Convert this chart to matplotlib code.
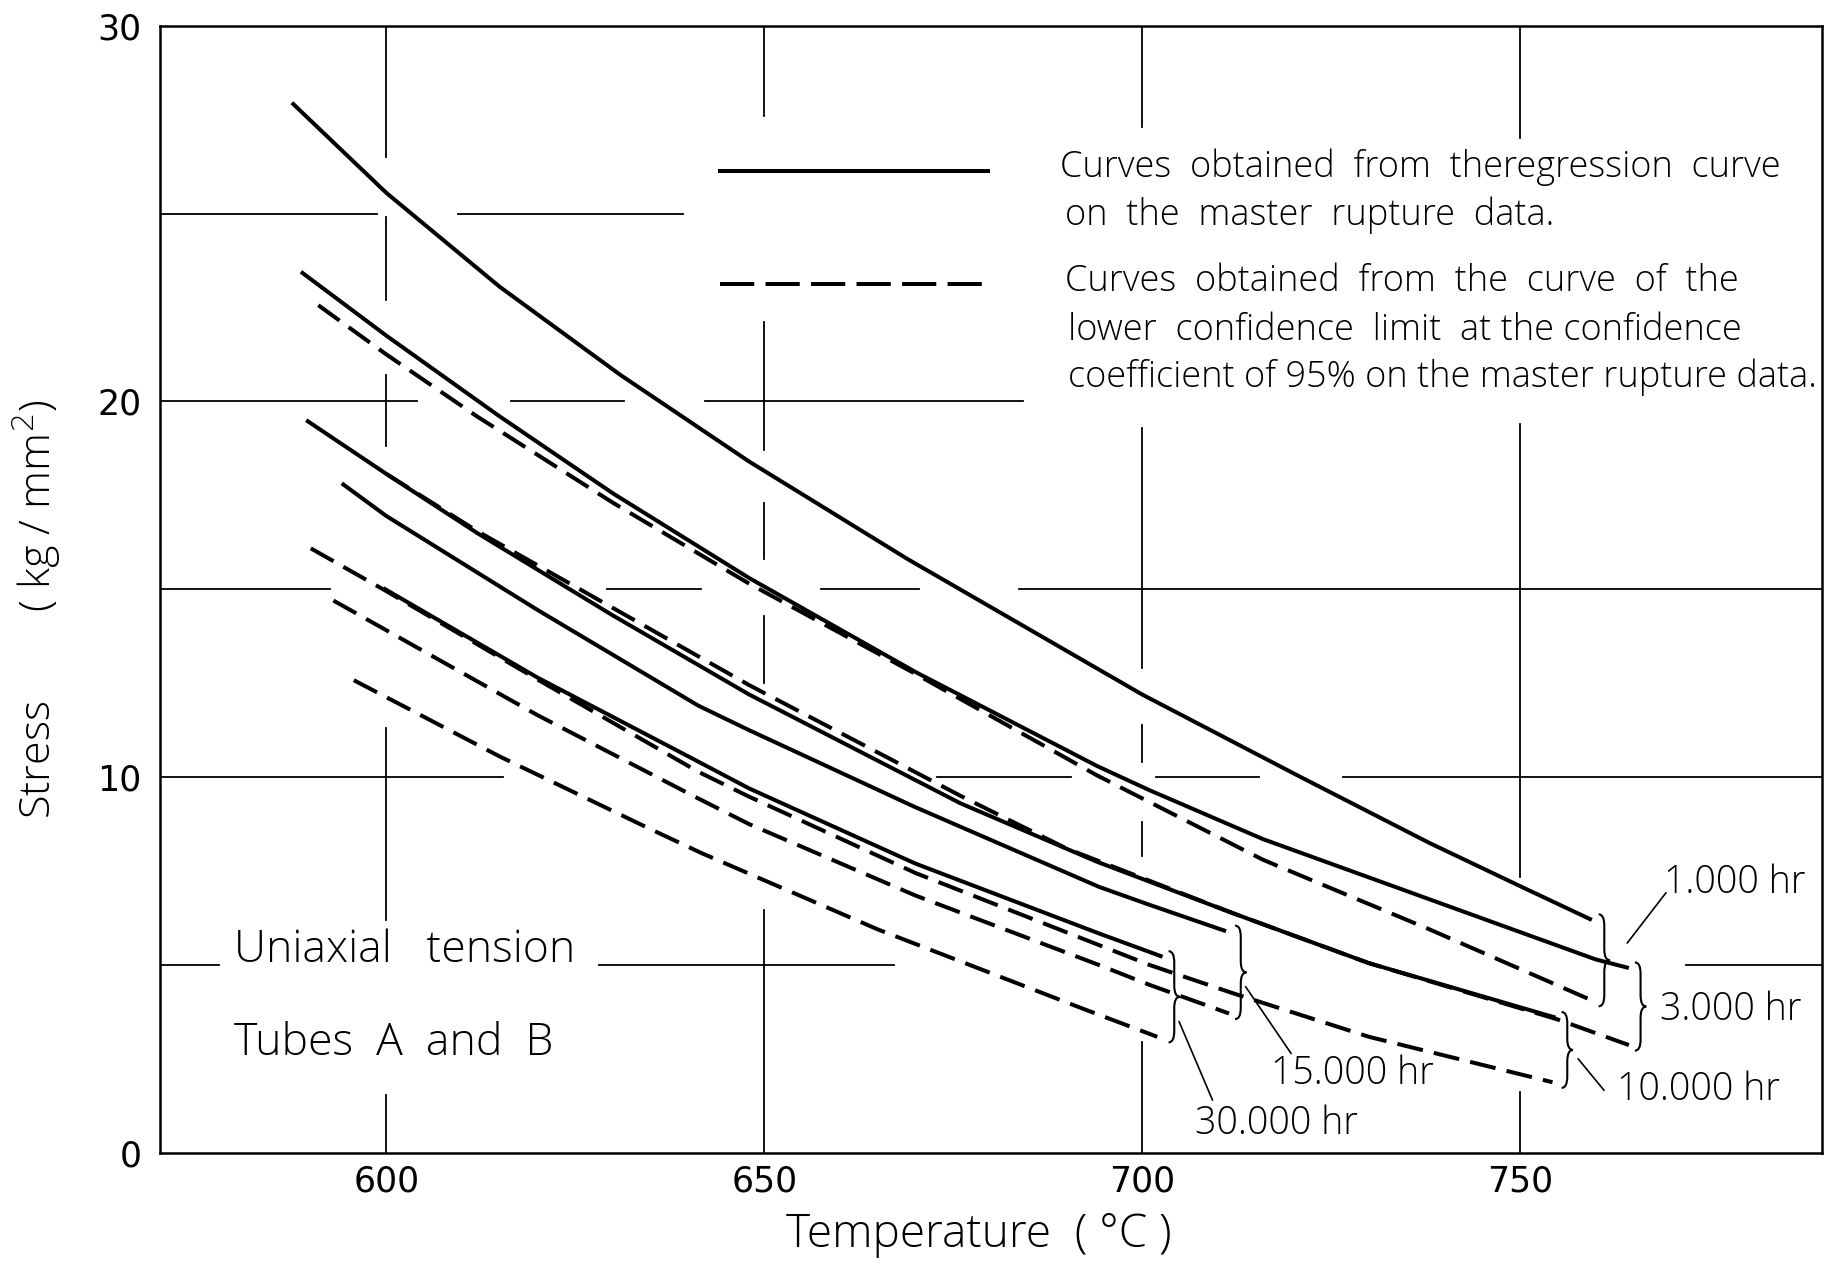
import numpy as np
import matplotlib.pyplot as plt
from matplotlib.path import Path
from matplotlib.patches import PathPatch

plt.rcParams['font.family'] = ['Open Sans', 'DejaVu Sans']
plt.rcParams['font.weight'] = 'light'
plt.rcParams['axes.labelweight'] = 'light'

# rupture curves: temperature (C) -> stress (kg/mm2)
t_1000_reg = [587.5, 600, 615, 631, 648, 669, 700, 721, 738, 750, 759.5]
s_1000_reg = [27.95, 25.55, 23.05, 20.7, 18.4, 15.8, 12.2, 10.0, 8.25, 7.1, 6.2]
t_1000_low = [591, 600, 612, 630, 648, 670, 694, 716, 738, 759.6]
s_1000_low = [22.56, 21.25, 19.6, 17.3, 15.15, 12.75, 10.05, 7.8, 5.95, 4.05]

t_3000_reg = [588.7, 600, 615, 630, 648, 670, 694, 701, 716, 738, 760, 764.4]
s_3000_reg = [23.45, 21.75, 19.6, 17.55, 15.3, 12.8, 10.3, 9.65, 8.35, 6.75, 5.15, 4.92]
t_3000_low = [600, 612, 630, 648, 676, 690, 712, 730, 755, 764.4]
s_3000_low = [18.07, 16.55, 14.5, 12.45, 9.5, 8.1, 6.38, 5.05, 3.55, 2.87]

t_10000_reg = [589.4, 600, 612, 630, 648, 676, 694, 712, 730, 754.7]
s_10000_reg = [19.5, 18.07, 16.5, 14.3, 12.2, 9.3, 7.75, 6.38, 5.05, 3.6]
t_10000_low = [590, 600, 620, 641.3, 648, 670, 694.3, 701, 712, 730, 754.3]
s_10000_low = [16.09, 14.95, 12.6, 10.14, 9.48, 7.45, 5.53, 5.0, 4.25, 3.09, 1.88]

t_15000_reg = [594.1, 600, 620, 641.3, 648, 670, 694.3, 701, 711.1]
s_15000_reg = [17.82, 16.95, 14.45, 11.9, 11.25, 9.2, 7.08, 6.6, 5.9]
t_15000_low = [593, 620, 641.3, 648, 670, 694.3, 701, 711.5]
s_15000_low = [14.7, 11.65, 9.43, 8.75, 6.85, 5.0, 4.47, 3.71]

t_30000_reg = [599.6, 620, 641.3, 648, 670, 694.3, 702.7]
s_30000_reg = [15.03, 12.65, 10.41, 9.7, 7.7, 5.84, 5.22]
t_30000_low = [595.7, 615, 634.7, 641.8, 665, 692, 702]
s_30000_low = [12.58, 10.55, 8.64, 7.97, 5.95, 3.85, 3.09]

durations = ['1.000 hr', '3.000 hr', '10.000 hr', '15.000 hr', '30.000 hr']
reg_t = [t_1000_reg, t_3000_reg, t_10000_reg, t_15000_reg, t_30000_reg]
reg_s = [s_1000_reg, s_3000_reg, s_10000_reg, s_15000_reg, s_30000_reg]
low_t = [t_1000_low, t_3000_low, t_10000_low, t_15000_low, t_30000_low]
low_s = [s_1000_low, s_3000_low, s_10000_low, s_15000_low, s_30000_low]

x_ticks = [600, 650, 700, 750]
y_ticks = [0, 10, 20, 30]

# broken grid lines of the original drawing
vgrid = {600: [(30, 26.5), (24.9, 22.7), (20.7, 18.8), (11.3, 6.2), (1.54, 0)],
         650: [(30, 27.6), (22.1, 18.7), (17.3, 15.8), (14.3, 12.5), (6.47, 0)],
         700: [(30, 27.3), (19.3, 12.9), (11.4, 10.4), (8.8, 7.9), (2.96, 0)],
         750: [(30, 27.0), (19.4, 7.35), (1.63, 0)]}
hgrid = {25: [(570, 598.8), (609.5, 639.3)],
         20: [(570, 604), (616.5, 631.5), (642.2, 684.3)],
         15: [(570, 592.5), (629.2, 641.6), (657.5, 670.5), (683.7, 790)],
         10: [(570, 615.5), (672.8, 690.6), (701.8, 715.4), (726.6, 790)],
         5: [(570, 577.8), (628.1, 667.2), (772, 790)]}

fig = plt.figure(figsize=(18.26, 12.64), dpi=100)
ax = fig.add_axes([0.0874, 0.0879, 0.9106, 0.8918])

for x, segs in vgrid.items():
    for a, b in segs:
        ax.plot([x, x], [a, b], color='black', lw=1.3, zorder=1)
for y, segs in hgrid.items():
    for a, b in segs:
        ax.plot([a, b], [y, y], color='black', lw=1.3, zorder=1)

for i in range(len(durations)):
    ax.plot(reg_t[i], reg_s[i], color='black', lw=2.9, solid_capstyle='butt',
            solid_joinstyle='round', zorder=3)
    ax.plot(low_t[i], low_s[i], color='black', lw=2.9, dashes=(6.5, 2.8), zorder=3)


def brace(ax, x0, yt, yb, w=1.5, r=0.3):
    m = (yt + yb) / 2
    xm = x0 + w / 2
    verts = [(x0, yt), (xm, yt), (xm, yt - r), (xm, m + r), (xm, m), (x0 + w, m),
             (xm, m), (xm, m - r), (xm, yb + r), (xm, yb), (x0, yb)]
    codes = [Path.MOVETO, Path.CURVE3, Path.CURVE3, Path.LINETO, Path.CURVE3, Path.CURVE3,
             Path.CURVE3, Path.CURVE3, Path.LINETO, Path.CURVE3, Path.CURVE3]
    ax.add_patch(PathPatch(Path(verts, codes), fill=False, lw=1.5, color='black'))


for i in range(len(durations)):
    x0 = max(reg_t[i][-1], low_t[i][-1]) + 0.8
    brace(ax, x0, reg_s[i][-1] + 0.15, low_s[i][-1] - 0.15)

# labels and leader lines
lab_pos = [(769.0, 7.2), (768.5, 3.82), (762.8, 1.67), (717.0, 2.1), (707.0, 0.77)]
leaders = [((764.2, 5.59), (769.3, 6.92)), None, ((757.7, 2.5), (761.1, 1.67)),
           ((713.7, 4.42), (719.7, 2.65)), ((704.9, 3.49), (709.3, 1.41))]
for lab, (tx, ty), ld in zip(durations, lab_pos, leaders):
    ax.text(tx, ty, lab, fontsize=27, ha='left', va='center')
    if ld is not None:
        ax.plot([ld[0][0], ld[1][0]], [ld[0][1], ld[1][1]], color='black', lw=1.2)

# legend drawn as in the original
ax.plot([644.1, 679.6], [26.13, 26.13], color='black', lw=2.9)
ax.plot([644.1, 679.6], [23.12, 23.12], color='black', lw=2.9, dashes=(8.5, 2.8))
ax.text(689.1, 26.24, 'Curves  obtained  from  theregression  curve', fontsize=26, va='center')
ax.text(689.8, 24.96, 'on  the  master  rupture  data.', fontsize=26, va='center')
ax.text(689.8, 23.18, 'Curves  obtained  from  the  curve  of  the', fontsize=26, va='center')
ax.text(690.2, 21.9, 'lower  confidence  limit  at the confidence', fontsize=26, va='center')
ax.text(690.2, 20.65, 'coefficient of 95% on the master rupture data.', fontsize=26, va='center')

ax.text(579.9, 5.37, 'Uniaxial   tension', fontsize=32, va='center')
ax.text(579.9, 2.9, 'Tubes  A  and  B', fontsize=32, va='center')

ax.set_xlim(570, 790)
ax.set_ylim(0, 30)
ax.set_xticks(x_ticks)
ax.set_yticks(y_ticks)
ax.tick_params(length=0, labelsize=25)
ax.tick_params(axis='x', pad=8)
ax.tick_params(axis='y', pad=13)
for lab in ax.get_xticklabels() + ax.get_yticklabels():
    lab.set_family('DejaVu Sans')
    lab.set_weight('normal')
ax.set_xlabel('Temperature  ( °C )', fontsize=33)
ax.xaxis.set_label_coords(0.4925, -0.052)
ax.set_ylabel('Stress        ( kg / mm$^2$)', fontsize=31)
ax.yaxis.set_label_coords(-0.058, 0.482)
for sp in ax.spines.values():
    sp.set_linewidth(1.8)

fig.savefig('out.png', dpi=100)
